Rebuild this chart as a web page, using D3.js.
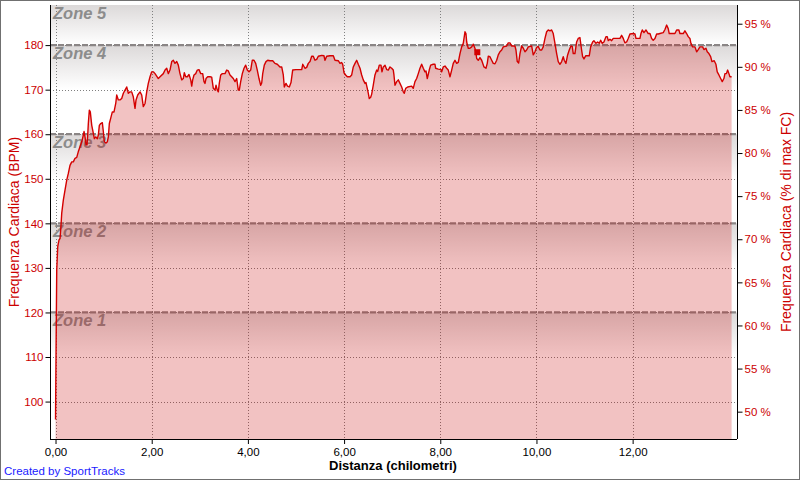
<!DOCTYPE html>
<html><head><meta charset="utf-8">
<script src="https://cdn.jsdelivr.net/npm/d3@7"></script>
<style>
html,body{margin:0;padding:0;background:#fff;}
svg{display:block;font-family:"Liberation Sans",Arial,sans-serif;}
</style></head>
<body><svg id="c" width="800" height="480"></svg>
<script>
// ---- data ----
const distance = [0.00,0.01,0.025,0.046,0.073,0.094,0.114,0.129,0.162,0.198,0.233,0.266,0.301,0.337,0.370,0.405,0.441,0.474,0.509,0.545,0.578,0.593,0.613,0.634,0.655,0.669,0.682,0.703,0.723,0.753,0.773,0.807,0.836,0.869,0.890,0.911,0.940,0.973,0.994,1.015,1.050,1.077,1.098,1.119,1.148,1.181,1.216,1.252,1.272,1.306,1.341,1.376,1.410,1.445,1.480,1.514,1.549,1.584,1.617,1.653,1.674,1.709,1.757,1.792,1.825,1.861,1.896,1.929,1.965,2.000,2.033,2.069,2.137,2.173,2.241,2.277,2.312,2.345,2.380,2.416,2.449,2.484,2.520,2.553,2.588,2.624,2.657,2.678,2.707,2.740,2.775,2.811,2.832,2.852,2.879,2.915,2.948,2.983,3.019,3.060,3.087,3.108,3.129,3.164,3.212,3.247,3.281,3.316,3.337,3.364,3.385,3.405,3.435,3.468,3.524,3.559,3.593,3.628,3.663,3.696,3.732,3.767,3.800,3.821,3.850,3.884,3.919,3.954,3.988,4.023,4.058,4.091,4.127,4.162,4.195,4.231,4.266,4.287,4.308,4.341,4.376,4.412,4.459,4.516,4.563,4.611,4.667,4.703,4.736,4.757,4.792,4.823,4.861,4.896,4.931,5.000,5.119,5.140,5.187,5.222,5.256,5.291,5.326,5.359,5.395,5.430,5.464,5.534,5.582,5.603,5.638,5.707,5.776,5.811,5.879,5.915,5.946,5.971,5.998,6.033,6.067,6.123,6.158,6.191,6.227,6.262,6.295,6.331,6.366,6.399,6.435,6.455,6.482,6.503,6.524,6.553,6.574,6.607,6.642,6.678,6.699,6.732,6.767,6.788,6.815,6.851,6.886,6.919,6.954,6.990,7.023,7.037,7.058,7.094,7.127,7.162,7.198,7.231,7.252,7.281,7.322,7.405,7.438,7.474,7.509,7.543,7.578,7.613,7.647,7.682,7.703,7.730,7.771,7.800,7.854,7.890,7.904,7.958,8.015,8.029,8.062,8.098,8.133,8.166,8.202,8.237,8.270,8.306,8.341,8.374,8.410,8.445,8.478,8.514,8.534,8.549,8.582,8.617,8.653,8.686,8.721,8.742,8.757,8.790,8.825,8.861,8.909,8.950,8.977,8.998,9.033,9.069,9.102,9.137,9.173,9.206,9.241,9.277,9.310,9.380,9.414,9.449,9.484,9.553,9.574,9.601,9.630,9.657,9.692,9.727,9.761,9.796,9.830,9.900,9.933,9.969,10.004,10.037,10.073,10.108,10.141,10.177,10.212,10.245,10.281,10.316,10.349,10.385,10.420,10.453,10.489,10.524,10.557,10.578,10.613,10.648,10.682,10.717,10.744,10.765,10.800,10.835,10.868,10.904,10.939,10.960,10.988,11.023,11.098,11.127,11.168,11.195,11.237,11.272,11.306,11.335,11.368,11.403,11.445,11.472,11.493,11.528,11.563,11.597,11.736,11.771,11.805,11.840,11.875,11.908,11.944,12.012,12.048,12.069,12.152,12.173,12.200,12.235,12.277,12.324,12.360,12.395,12.428,12.464,12.499,12.532,12.568,12.636,12.672,12.707,12.740,12.761,12.879,12.915,12.962,12.983,13.052,13.087,13.122,13.156,13.191,13.212,13.247,13.295,13.331,13.364,13.399,13.455,13.482,13.524,13.551,13.586,13.622,13.649,13.696,13.732,13.759,13.794,13.830,13.863,13.898,13.919,13.950,13.975,14.002,14.023,14.058];
const heartRate = [96,110,129.5,134.8,136.3,136.6,139.6,142.3,145.2,147.5,149.7,151.2,153,153.8,153.8,154.6,154.8,156.1,157.2,158.3,159.8,160.6,159.4,157.6,157.6,159.8,162.4,165.4,165,162,160.9,159,159.4,159,159.8,162,162.4,162.6,160.6,158.3,158,158.3,159.4,162.4,163.6,165,165,166.9,168.8,167.7,167.7,168,169.2,169.9,170.6,169.2,169.5,169.5,168.4,165.8,167.7,168.8,169.5,168.8,166.2,166.9,169.5,171.4,172.9,174,174,173.6,172.5,172.9,173.6,174.4,174.8,173.6,174.4,176.3,176.6,175.9,176.3,175.5,173.6,172.2,172.5,173.8,172.9,172.9,173.4,172.2,170.8,172.2,173.3,173.6,174.4,174.5,173.6,173.6,171.8,171.4,172.5,172.9,172.9,172.8,170.3,169.9,171,169.9,169.5,171.4,173.3,173.6,173.6,174.4,174.2,173.3,172.9,172.5,171.8,172.5,169.9,169.9,171.8,173.6,174.8,175.5,174.4,174,174.4,176.6,176.6,175.9,174.4,172.5,171,171.5,173.6,175.5,176.3,176.6,176.5,176.5,175.9,175.7,175.1,175.1,173.3,170.6,171.4,170.8,170.6,171.6,174.4,174.5,174.5,175.7,174.8,175,175.9,176.3,177.5,177.5,176.6,176.8,177.5,177.7,177.6,176.6,177.5,177.6,177.6,176.6,176.5,175.9,176.1,175.7,173.8,173.3,172.9,172.9,173.3,175.1,175.9,176.6,175.7,174.8,173.3,172.2,171.4,171.6,170.3,169.2,168,168.3,169,171,173.3,174.4,174.1,175.5,175.5,174,175.1,175.5,174.5,174.4,175.1,174.8,174.4,173.3,171,171.8,172.2,171.4,170.6,169.5,169.2,170.3,170.6,170.8,170.3,171.8,172.5,173.6,174.8,175.7,174.8,174,174.2,172.5,174.4,175.5,175.7,175.7,174.8,174.6,174.5,174,175.1,175.3,174.8,174.4,172.9,174.4,175.9,176.6,175.9,176.1,178.1,179.6,180.4,183,182.6,180.7,179.3,179.3,179.6,180.2,179.3,178.2,177,176.6,177.2,176.6,175.1,174.8,175.9,177.5,177.4,176.6,175.9,175.8,176.6,177.8,178.5,178.9,179.6,179.8,180.5,180.5,179.8,179.8,178.9,176.3,176,178.1,179.8,179.3,178.5,178.9,179.6,179.8,177.8,178.5,179.5,179.7,178.9,178.9,179.6,181.5,183,183.4,183.2,183.4,182.6,180.4,178.1,176.3,175.7,176.3,177.4,176.6,175.9,177.8,178.9,179.8,179.7,178.1,178.1,180.7,181.5,181.7,178.9,177.4,176.9,177.6,177.6,179.6,180.7,181,180.4,180.7,180.4,181.1,180.4,180.7,181.9,181.9,181,181.3,181,181.5,181.5,182.2,181.5,180.5,180.7,181.5,182.5,182.6,182.5,181.5,181.5,182.6,183.4,182.8,183.4,182.6,182.6,181.5,181.1,181.5,182.5,182.5,182.6,182.8,183.5,184.5,183.7,182.6,182.6,183.4,183.4,182.6,182.6,183.2,182.6,181.9,181.5,180.4,179.6,179.6,178.5,179,179.6,179.6,179,179.3,178.5,178.1,177.4,176.3,176.5,175.7,174,173.3,172.5,171.8,172.5,173.6,173.6,174.4,173.6,172.9,172.9];
const markerKm = [8.77];
const markerBpm = [178.4];
const xTicks = [0,2,4,6,8,10,12];
const bpmTicks = [100,110,120,130,140,150,160,170,180];
const pctTicks = [50,55,60,65,70,75,80,85,90,95];
const zoneNames = ["Zone 1","Zone 2","Zone 3","Zone 4","Zone 5"];
const zoneLower = [null,120,140,160,180];
const zoneUpper = [120,140,160,180,null];

// ---- layout ----
const L=50, R=737, T=5, B=439;
const svg = d3.select("#c");
const x = d3.scaleLinear().domain([-0.115,14.17]).range([L,R]);
const y = d3.scaleLinear().domain([91.6,189]).range([B,T]);
const yp = d3.scaleLinear().domain([46.83,97.17]).range([B,T]);
const RED="#cc0000";

svg.append("rect").attr("x",0.5).attr("y",0.5).attr("width",799).attr("height",479)
  .attr("fill","#fff").attr("stroke","#707070");

const defs = svg.append("defs");
const g1 = defs.append("linearGradient").attr("id","zg").attr("x1",0).attr("y1",0).attr("x2",0).attr("y2",1);
g1.append("stop").attr("offset","0%").attr("stop-color","#dcd9d9");
g1.append("stop").attr("offset","100%").attr("stop-color","#ffffff");
defs.append("clipPath").attr("id","pc").append("rect").attr("x",L).attr("y",T).attr("width",R-L).attr("height",B-T);

const plot = svg.append("g").attr("clip-path","url(#pc)");
plot.append("rect").attr("x",L).attr("y",T).attr("width",R-L).attr("height",B-T).attr("fill","#fff");

// zone bands (gradient at top of each band)
zoneNames.forEach((n,i)=>{
  const top = zoneUpper[i]==null ? T : y(zoneUpper[i]);
  const bot = zoneLower[i]==null ? B : y(zoneLower[i]);
  const h = Math.min(44, bot-top);
  plot.append("rect").attr("x",L).attr("y",top).attr("width",R-L).attr("height",h).attr("fill","url(#zg)");
});

// grid
plot.selectAll(".gy").data(bpmTicks).join("line")
  .attr("x1",L).attr("x2",R).attr("y1",d=>Math.round(y(d))+0.5).attr("y2",d=>Math.round(y(d))+0.5)
  .attr("stroke","#808080").attr("stroke-dasharray","1,2");
plot.selectAll(".gx").data(xTicks).join("line")
  .attr("y1",T).attr("y2",B).attr("x1",d=>Math.round(x(d))+0.5).attr("x2",d=>Math.round(x(d))+0.5)
  .attr("stroke","#808080").attr("stroke-dasharray","1,2");

// zone lines
plot.selectAll(".zl").data(zoneUpper.filter(d=>d!=null)).join("line")
  .attr("x1",L).attr("x2",R).attr("y1",d=>y(d)).attr("y2",d=>y(d))
  .attr("stroke","#8a8585").attr("stroke-width",2.2).attr("stroke-dasharray","6,2");

// zone labels
plot.selectAll(".zt").data(zoneNames).join("text")
  .attr("x",53).attr("y",(d,i)=> (zoneUpper[i]==null?T:y(zoneUpper[i])) + 14)
  .attr("font-size",16.5).attr("font-weight","bold").attr("font-style","italic")
  .attr("fill","#8c8c8c").text(d=>d);

// area + line
const pts = distance.map((d,i)=>[d,heartRate[i]]);
plot.append("path").datum(pts)
  .attr("d",d3.area().x(d=>x(d[0])).y0(B).y1(d=>y(d[1])))
  .attr("fill","rgb(200,0,0)").attr("fill-opacity",0.24);
plot.append("path").datum(pts)
  .attr("d",d3.line().x(d=>x(d[0])).y(d=>y(d[1])))
  .attr("fill","none").attr("stroke","#d40000").attr("stroke-width",1.4).attr("stroke-linejoin","round");
plot.selectAll(".mk").data(markerKm).join("rect")
  .attr("x",(d)=>x(d)-3).attr("y",(d,i)=>y(markerBpm[i])-3).attr("width",6).attr("height",6).attr("fill","#d40000");

// axes
const ax = svg.append("g").attr("transform",`translate(0,${B})`)
  .call(d3.axisBottom(x).tickValues(xTicks).tickSize(5).tickSizeOuter(0).tickFormat(d=>d3.format(".2f")(d).replace(".",",")));
ax.select(".domain").attr("d",`M${L},0.5H${R}`).attr("stroke","#000");
ax.selectAll("text").attr("font-size",11.5).attr("fill","#000").attr("dy","0.75em").attr("font-family","Liberation Sans, Arial, sans-serif");

const ayl = svg.append("g").attr("transform",`translate(${L+0.5},0)`)
  .call(d3.axisLeft(y).tickValues(bpmTicks).tickSize(5).tickSizeOuter(0));
ayl.select(".domain").attr("d",`M0,${T}V${B}`).attr("stroke","#000");
ayl.selectAll("text").attr("font-size",11.5).attr("fill",RED).attr("x",-7).attr("font-family","Liberation Sans, Arial, sans-serif");

const ayr = svg.append("g").attr("transform",`translate(${R+0.5},0)`)
  .call(d3.axisRight(yp).tickValues(pctTicks).tickSize(5).tickSizeOuter(0).tickFormat(d=>d+" %"));
ayr.select(".domain").attr("d",`M0,${T}V${B}`).attr("stroke","#000");
ayr.selectAll("text").attr("font-size",11.5).attr("fill",RED).attr("x",7).attr("font-family","Liberation Sans, Arial, sans-serif");

// titles
svg.append("text").attr("x",393).attr("y",470).attr("text-anchor","middle")
  .attr("font-size",13).attr("font-weight","bold").attr("fill","#000").text("Distanza (chilometri)");
svg.append("text").attr("transform","translate(19,222) rotate(-90)").attr("text-anchor","middle")
  .attr("font-size",14).attr("fill",RED).text("Frequenza Cardiaca (BPM)");
svg.append("text").attr("transform","translate(781,222) rotate(-90)").attr("text-anchor","middle")
  .attr("font-size",14).attr("fill",RED).text("Frequenza Cardiaca (% di max FC)").attr("dy","0.7em");
svg.append("text").attr("x",4).attr("y",475).attr("font-size",11.5).attr("fill","#1a1aff").text("Created by SportTracks");
</script></body></html>
